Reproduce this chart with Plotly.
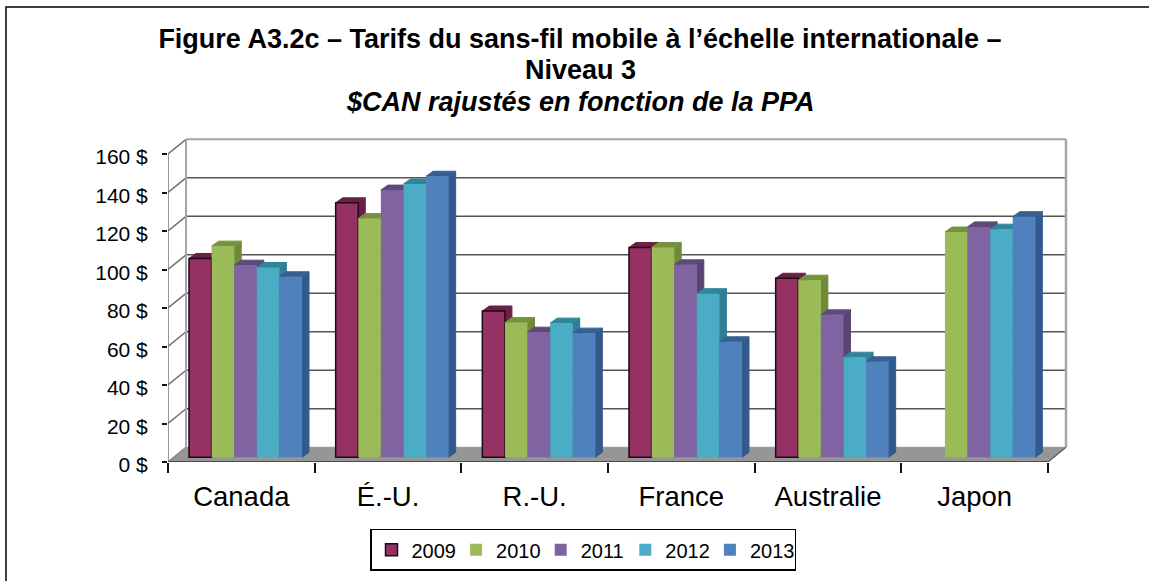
import plotly.graph_objects as go

categories = ["Canada", "É.-U.", "R.-U.", "France", "Australie", "Japon"]
years = ["2009", "2010", "2011", "2012", "2013"]
v2009 = [103.3, 132.2, 76, 109, 93, None]
v2010 = [109.7, 124, 70, 109, 92, 117]
v2011 = [99.8, 138.8, 65, 100, 74, 119.7]
v2012 = [98.6, 142, 69.7, 85, 52, 118.5]
v2013 = [93.8, 146, 64.5, 60, 49.6, 125]
series = [v2009, v2010, v2011, v2012, v2013]
front_colors = ["#953163", "#9BBB59", "#8064A2", "#4BACC6", "#4F81BD"]
top_colors = ["#6E1F47", "#76923C", "#5F497A", "#31859B", "#376092"]
side_colors = ["#6E1F47", "#6F8A38", "#5A4474", "#2F7E93", "#335A8A"]
y_ticks = list(range(0, 161, 20))
y_labels = [f"{v} $" for v in y_ticks]

# Geometry (pixels)
W, H = 1149, 581
L, R6, T160, B = 168, 1048, 154, 461.7   # front plane: x=0..6, y=0..160
AR, AT = 1072, 134                       # plot area right / top edge
px_x = 6 / (R6 - L)
px_y = 160 / (B - T160)
wall_dx, wall_dy = 18 * px_x, 14.7 * px_y
bar_dx, bar_dy = 7 * px_x, 5 * px_y
bar_w = 22.6 * px_x
group_start = 21 * px_x
bar_base = 4.7 * px_y

fig = go.Figure()

def poly(xs, ys, fill, line=None, width=1, z=0):
    fig.add_trace(go.Scatter(
        x=xs, y=ys, mode="lines", fill="toself" if fill else None, fillcolor=fill,
        line=dict(color=line or fill or "rgba(0,0,0,0)", width=width),
        showlegend=False, hoverinfo="skip", cliponaxis=False, zorder=z))

# Floor
poly([0, wall_dx, 6 + wall_dx, 6, 0], [0, wall_dy, wall_dy, 0, 0], "#969696", z=0)
# Back wall gridlines
gx, gy = [], []
for v in y_ticks[1:-1]:
    gx += [wall_dx, 6 + wall_dx, None]
    gy += [v + wall_dy, v + wall_dy, None]
poly(gx, gy, None, "#555555", 1.6, z=0)
poly([wall_dx, 6 + wall_dx], [160 + wall_dy] * 2, None, "#a6a6a6", 2, z=0)
# Side wall diagonals
sx, sy = [], []
for v in y_ticks[1:]:
    sx += [0, wall_dx, None]
    sy += [v, v + wall_dy, None]
poly(sx, sy, None, "#6f6f6f", 1.5, z=0)
poly([0, wall_dx], [0, wall_dy], None, "#8a8a8a", 1.5, z=0)
# Wall vertical edges
poly([wall_dx, wall_dx], [wall_dy, 160 + wall_dy], None, "#a6a6a6", 2, z=0)
poly([6 + wall_dx, 6 + wall_dx], [wall_dy, 160 + wall_dy], None, "#a6a6a6", 2.5, z=0)
poly([6, 6 + wall_dx], [0, wall_dy], None, "#5f5f5f", 1.2, z=0)
# Front axis lines
poly([0, 0], [0, 160], None, "#777777", 1.5, z=0)
poly([0, 6], [0, 0], None, "#333333", 1.6, z=0)

for i, (name, vals) in enumerate(zip(years, series)):
    tx, ty, hx, hy = [], [], [], []
    xs = []
    for c, v in enumerate(vals):
        x0 = c + group_start + i * bar_w
        x1 = x0 + bar_w
        xs.append((x0 + x1) / 2)
        if v is None:
            continue
        top = bar_base + v
        tx += [x0, x0 + bar_dx, x1 + bar_dx, x1, x0, None]
        ty += [top, top + bar_dy, top + bar_dy, top, top, None]
        hx += [x1, x1 + bar_dx, x1 + bar_dx, x1, x1, None]
        hy += [bar_base, bar_base + bar_dy, top + bar_dy, top, bar_base, None]
    poly(hx, hy, side_colors[i], z=2 * i + 1)
    poly(tx, ty, top_colors[i], z=2 * i + 1)
    fig.add_trace(go.Bar(
        x=xs, y=vals, base=bar_base, width=bar_w, name=name,
        marker=dict(color=front_colors[i],
                    line=dict(color="#1c0a14" if i == 0 else front_colors[i],
                              width=1.5 if i == 0 else 0)),
        cliponaxis=False, zorder=2 * i + 2, hoverinfo="skip"))

def rx(p):
    return (p - L) / (AR - L)

def ry(p):
    return (B - p) / (B - AT)

fig.update_layout(
    width=W, height=H, autosize=False,
    margin=dict(l=L, r=W - AR, t=AT, b=H - B, autoexpand=False),
    paper_bgcolor="white", plot_bgcolor="rgba(0,0,0,0)",
    barmode="overlay",
    font=dict(family="Liberation Sans, Arial, sans-serif", color="#000000"),
    title=dict(
        text="<b>Figure A3.2c – Tarifs du sans-fil mobile à l’échelle internationale –</b>",
        x=580 / W, xanchor="center", y=1 - 39 / H, yanchor="middle",
        font=dict(size=27)),
    annotations=[
        dict(text="<b>Niveau 3</b>", xref="paper", yref="paper", x=rx(580), y=ry(70),
             xanchor="center", yanchor="middle", showarrow=False, font=dict(size=27)),
        dict(text="<b><i>$CAN rajustés en fonction de la PPA</i></b>", xref="paper", yref="paper",
             x=rx(580), y=ry(102), xanchor="center", yanchor="middle", showarrow=False,
             font=dict(size=27)),
    ],
    xaxis=dict(
        range=[0, (AR - L) * px_x], tickvals=[i + 0.5 for i in range(6)], ticktext=categories,
        ticks="", showgrid=False, zeroline=False, showline=False,
        tickfont=dict(size=27.5), ticklabelstandoff=15,
        minor=dict(tickvals=list(range(7)), ticks="outside", ticklen=10,
                   tickcolor="#111111", tickwidth=1.5, showgrid=False)),
    yaxis=dict(
        range=[0, (B - AT) * px_y], tickvals=y_ticks, ticktext=y_labels, ticks="outside",
        ticklen=5, tickcolor="#111111", tickwidth=1.5, showgrid=False,
        zeroline=False, showline=False,
        tickfont=dict(size=21), ticklabelstandoff=10, ticklabelshift=3),
    legend=dict(
        orientation="h", x=rx(370), xanchor="left", y=ry(528.5), yanchor="top",
        bordercolor="#000000", borderwidth=1.5, bgcolor="white",
        font=dict(size=20), itemwidth=30, entrywidth=39.6, entrywidthmode="pixels",
        itemclick=False, itemdoubleclick=False),
    shapes=[dict(type="rect", xref="paper", yref="paper",
                 x0=rx(6), x1=rx(1170), y0=ry(7), y1=ry(600),
                 line=dict(color="#000000", width=1.5))],
)
fig.write_html("out.html", config=dict(displayModeBar=False),
               post_script="document.body.style.margin='0';document.body.style.overflow='hidden';")
